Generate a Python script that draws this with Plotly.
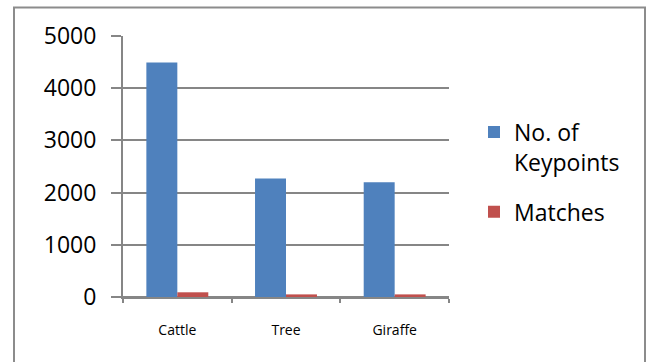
import plotly.graph_objects as go

categories = ["Cattle", "Tree", "Giraffe"]
keypoints = [4490, 2270, 2200]
matches = [90, 50, 50]
y_ticks = [0, 1000, 2000, 3000, 4000, 5000]

BLUE = "#4F81BD"
RED = "#C0504D"
GRID = "#868686"
FONT = "Open Sans"

fig = go.Figure()
fig.add_trace(go.Bar(name="No. of<br>Keypoints", x=categories, y=keypoints,
                     legendgroup="kp",
                     marker=dict(color=BLUE, line=dict(width=0))))
fig.add_trace(go.Bar(name="Matches", x=categories, y=matches,
                     legendgroup="m",
                     marker=dict(color=RED, line=dict(width=0))))

W, H = 648, 362
L, R, T, B = 123, 199, 35.5, 65.3
pw = W - L - R
ph = H - T - B


def px_to_paper_x(px):
    return (px - L) / pw


def px_to_paper_y(py):
    return (H - B - py) / ph


fig.update_layout(
    width=W, height=H,
    margin=dict(l=L, r=R, t=T, b=B, pad=0),
    paper_bgcolor="white", plot_bgcolor="white",
    barmode="group", bargap=0.43, bargroupgap=0,
    font=dict(family=FONT, color="#000000"),
    legend=dict(
        x=px_to_paper_x(474), y=px_to_paper_y(110),
        xanchor="left", yanchor="top",
        font=dict(family=FONT, size=23, color="#000000"),
        valign="top", tracegroupgap=17,
        bgcolor="rgba(0,0,0,0)",
    ),
    shapes=[dict(
        type="rect", xref="paper", yref="paper",
        x0=px_to_paper_x(14), x1=px_to_paper_x(645),
        y0=px_to_paper_y(400), y1=px_to_paper_y(7),
        line=dict(color="#8C8C8C", width=2), fillcolor="rgba(0,0,0,0)",
        layer="below",
    )],
)

fig.update_xaxes(
    type="category", tickson="boundaries",
    showline=True, linecolor=GRID, linewidth=2,
    ticks="outside", ticklen=4, tickwidth=2, tickcolor=GRID,
    showgrid=False,
    tickfont=dict(family=FONT, size=14, color="#000000"),
    ticklabelstandoff=19,
)
fig.update_yaxes(
    range=[0, 5000], tickvals=y_ticks,
    showline=True, linecolor=GRID, linewidth=2,
    showgrid=True, gridcolor=GRID, gridwidth=2,
    zeroline=True, zerolinecolor=GRID, zerolinewidth=2,
    ticks="outside", ticklen=10, tickwidth=2, tickcolor=GRID,
    tickfont=dict(family=FONT, size=23, color="#000000"),
    ticklabelstandoff=10,
)

fig.write_html("out.html")
